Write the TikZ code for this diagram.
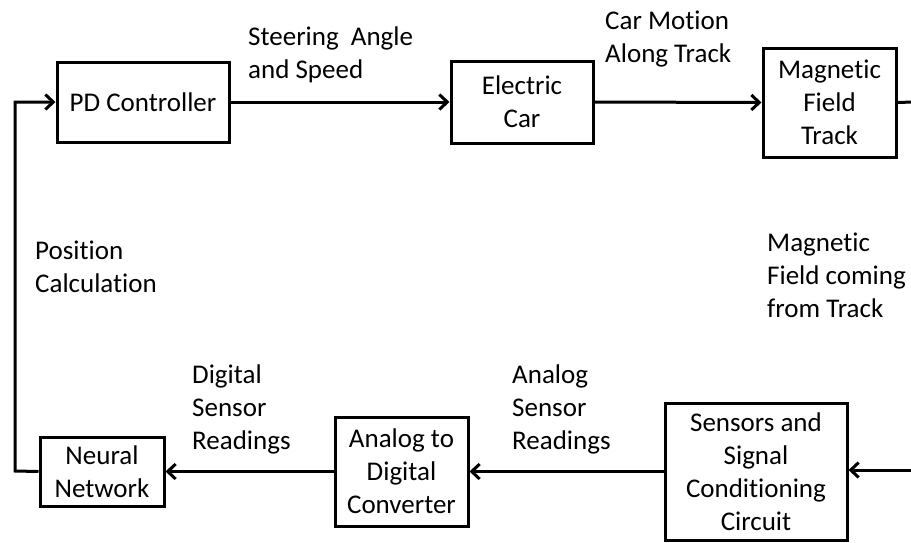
\documentclass[tikz,border=0pt]{standalone}
\usepackage{fontspec}
\setmainfont{Carlito}[Ligatures=NoCommon]
\usetikzlibrary{arrows.meta}
\begin{document}
\begin{tikzpicture}[x=1pt,y=-1pt,
  every node/.style={font=\fontsize{27}{33}\selectfont},
  blk/.style={draw,line width=3pt,inner sep=0pt,align=center},
  lbl/.style={anchor=north west,inner sep=0pt,align=left},
  conn/.style={line width=3pt,-{Straight Barb[length=8pt,width=15pt,line width=3pt]}},
  plain/.style={line width=3pt}]
\useasboundingbox (0,0) rectangle (911,542);
% blocks
\node[blk,minimum width=172,minimum height=80] (pd) at (143,102) {PD Controller};
\node[blk,minimum width=142,minimum height=82] (ec) at (522,102) {Electric\\Car};
\node[blk,minimum width=133,minimum height=109] (mft) at (829.5,102.5) {Magnetic\\Field\\Track};
\node[blk,minimum width=182,minimum height=137] (ssc) at (756,471.5) {Sensors and\\Signal\\Conditioning\\Circuit};
\node[blk,minimum width=133,minimum height=109] (adc) at (401.5,471.5) {Analog to\\Digital\\Converter};
\node[blk,minimum width=124,minimum height=69] (nn) at (102,471.5) {Neural\\Network};
% free ends
\coordinate (outr) at (913,102);
\coordinate (inr) at (913,470);
\coordinate (lb) at (15,471);
\coordinate (lt) at (15,102);
% connectors
\draw[conn] (pd.east) -- (ec.west);
\draw[conn] (ec.east) -- (mft.west);
\draw[plain] (mft.east) -- (outr);
\draw[conn] (inr) -- (ssc.east |- inr);
\draw[conn] (ssc.west |- adc.east) -- (adc.east);
\draw[conn] (adc.west) -- (nn.east);
\draw[conn] (nn.west) -- (lb) -- (lt) -- (pd.west);
% labels
\node[lbl] (l1) at (248,{45-23.1}) {\strut Steering~ Angle\\and Speed};
\node[lbl] (l2) at (605,{29-23.1}) {\strut Car Motion\\Along Track};
\node[lbl] (l3) at (35,{259-23.1}) {\strut Position\\Calculation};
\node[lbl] (l4) at (767,{251-23.1}) {\strut Magnetic\\Field coming\\from Track};
\node[lbl] (l5) at (192,{383-23.1}) {\strut Digital\\Sensor\\Readings};
\node[lbl] (l6) at (512,{383-23.1}) {\strut Analog\\Sensor\\Readings};
\end{tikzpicture}
\end{document}
